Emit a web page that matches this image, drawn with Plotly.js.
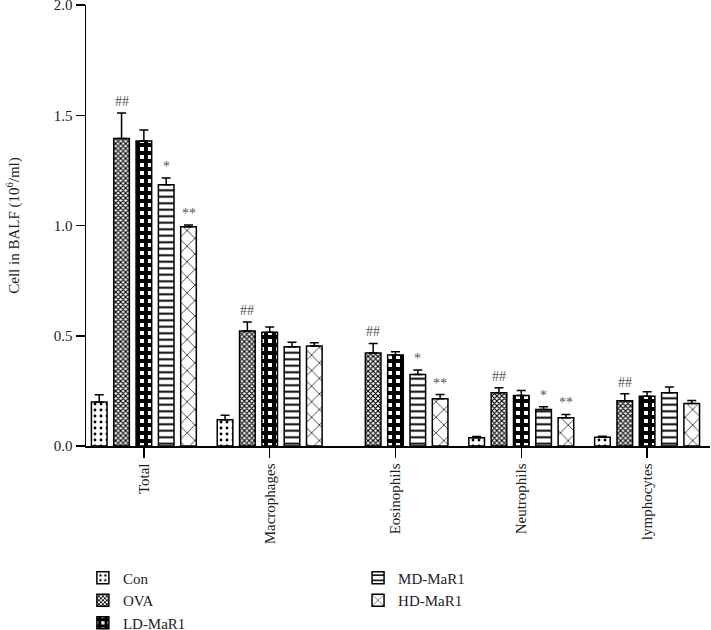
<!DOCTYPE html>
<html>
<head>
<meta charset="utf-8">
<script src="https://cdn.plot.ly/plotly-3.0.1.min.js"></script>
<style>html,body{margin:0;padding:0;background:#fff;}#chart{width:711px;height:630px;}</style>
</head>
<body>
<div id="chart"></div>
<script>
// ---- data ----
const categories = ['Total', 'Macrophages', 'Eosinophils', 'Neutrophils', 'lymphocytes'];
const groups = ['Con', 'OVA', 'LD-MaR1', 'MD-MaR1', 'HD-MaR1'];

const conVals = [0.200, 0.119, null, 0.037, 0.040];
const conErr  = [0.032, 0.020, 0, 0.006, 0.004];
const ovaVals = [1.394, 0.522, 0.422, 0.241, 0.205];
const ovaErr  = [0.116, 0.040, 0.043, 0.023, 0.032];
const ldVals  = [1.383, 0.516, 0.413, 0.229, 0.226];
const ldErr   = [0.050, 0.024, 0.015, 0.023, 0.020];
const mdVals  = [1.185, 0.450, 0.324, 0.165, 0.241];
const mdErr   = [0.030, 0.020, 0.021, 0.013, 0.027];
const hdVals  = [0.994, 0.454, 0.214, 0.128, 0.193];
const hdErr   = [0.008, 0.014, 0.019, 0.015, 0.013];

const conSig = ['', '', '', '', ''];
const ovaSig = ['##', '##', '##', '##', '##'];
const ldSig  = ['', '', '', '', ''];
const mdSig  = ['*', '', '*', '*', ''];
const hdSig  = ['**', '', '**', '**', ''];

const yTicks = [0, 0.5, 1.0, 1.5, 2.0];
const yTickText = ['0.0', '0.5', '1.0', '1.5', '2.0'];

// ---- styling ----
const FONT = 'Liberation Serif, Times New Roman, serif';
const patterns = [
  {shape: '.', size: 6, solidity: 0.18, fgcolor: '#000', bgcolor: '#fff'},
  {shape: 'x', size: 3.5, solidity: 0.55, fgcolor: '#000', bgcolor: '#fff'},
  {shape: '+', size: 8, solidity: 0.75, fgcolor: '#000', bgcolor: '#fff'},
  {shape: '-', size: 6.5, solidity: 0.3, fgcolor: '#000', bgcolor: '#fff'},
  {shape: 'x', size: 11, solidity: 0.12, fgcolor: '#000', bgcolor: '#fff'}
];
const series = [
  [conVals, conErr, conSig],
  [ovaVals, ovaErr, ovaSig],
  [ldVals, ldErr, ldSig],
  [mdVals, mdErr, mdSig],
  [hdVals, hdErr, hdSig]
];

const W = 711, H = 630;
const margin = {l: 86, r: 1, t: 5, b: 183.5, autoexpand: false};
const xRange = [-0.46, 4.5];
const bargap = 0.113;

const traces = series.map((s, i) => ({
  type: 'bar',
  name: groups[i],
  x: categories,
  y: s[0],
  legend: i < 3 ? 'legend' : 'legend2',
  marker: {color: '#fff', line: {color: '#000', width: 1.5}, pattern: patterns[i]},
  error_y: {type: 'data', symmetric: false, array: s[1], arrayminus: s[1].map(() => 0),
            color: '#000', thickness: 1.5, width: 4.5},
  hoverinfo: 'skip'
}));

// significance marks as annotations placed above error bars
const plotW = W - margin.l - margin.r;
const pxPerCat = plotW / (xRange[1] - xRange[0]);
const pitch = pxPerCat * (1 - bargap) / groups.length;
const annotations = [];
series.forEach((s, i) => {
  s[2].forEach((txt, j) => {
    if (!txt) return;
    annotations.push({
      x: categories[j], y: s[0][j] + s[1][j], xref: 'x', yref: 'y',
      text: txt, showarrow: false, yanchor: 'bottom', yshift: 2,
      xshift: (i - (groups.length - 1) / 2) * pitch,
      font: {family: FONT, size: 14, color: '#555'}
    });
  });
});

const legendBase = {
  xanchor: 'left', y: -0.262, yanchor: 'top',
  orientation: 'v', bgcolor: 'rgba(0,0,0,0)',
  font: {family: FONT, size: 15, color: '#222'}
};

const layout = {
  width: W, height: H,
  margin: margin,
  paper_bgcolor: '#fff', plot_bgcolor: '#fff',
  font: {family: FONT, size: 15, color: '#222'},
  barmode: 'group', bargap: bargap, bargroupgap: 0.3,
  showlegend: true,
  xaxis: {
    type: 'category', range: xRange, showgrid: false, zeroline: false,
    showline: true, linecolor: '#000', linewidth: 1.5,
    ticks: 'outside', ticklen: 10, tickwidth: 1.5, tickcolor: '#000',
    tickangle: -90, tickfont: {family: FONT, size: 15, color: '#222'}
  },
  yaxis: {
    range: [0, 2], showgrid: false, zeroline: false,
    showline: true, linecolor: '#000', linewidth: 1.5,
    ticks: 'outside', ticklen: 9, tickwidth: 1.5, tickcolor: '#000',
    tickvals: yTicks, ticktext: yTickText, ticklabeloverflow: 'allow',
    tickfont: {family: FONT, size: 15, color: '#222'},
    title: {text: 'Cell in BALF (10<sup>6</sup>/ml)', font: {family: FONT, size: 15, color: '#222'}, standoff: 30}
  },
  legend: Object.assign({x: -0.005}, legendBase),
  legend2: Object.assign({x: 0.436}, legendBase),
  annotations: annotations
};

Plotly.newPlot('chart', traces, layout, {displayModeBar: false, staticPlot: true});
</script>
</body>
</html>
